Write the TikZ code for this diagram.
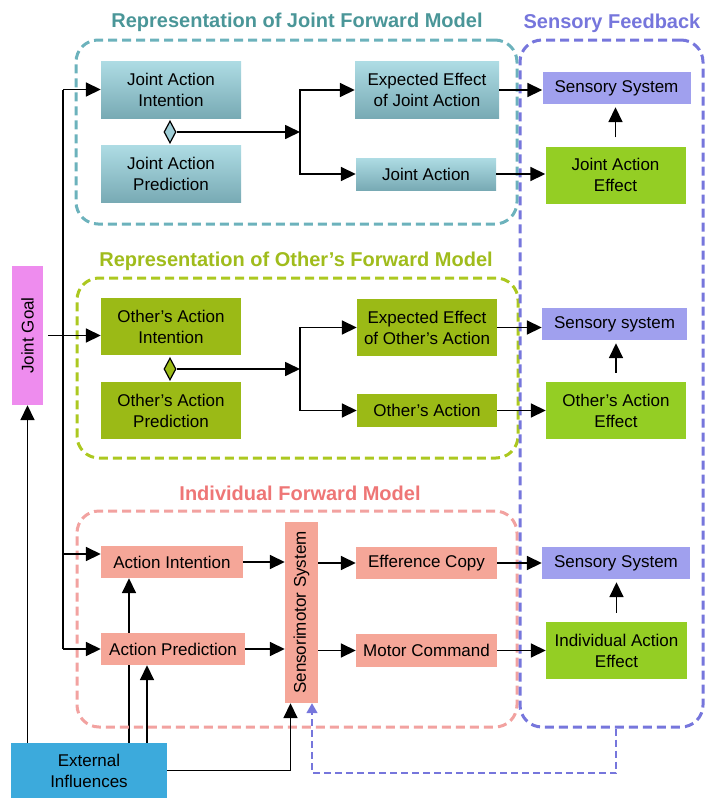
\documentclass[tikz,border=0pt]{standalone}
\usepackage{fontspec}
\setmainfont{Liberation Sans}
\usetikzlibrary{positioning,arrows.meta,shapes.geometric,backgrounds}

\definecolor{jtop}{RGB}{174,220,228}
\definecolor{jbot}{RGB}{120,170,180}
\definecolor{olivegr}{RGB}{155,186,22}
\definecolor{limegr}{RGB}{148,206,36}
\definecolor{lavend}{RGB}{160,160,238}
\definecolor{salmn}{RGB}{245,166,152}
\definecolor{goalpk}{RGB}{238,140,238}
\definecolor{skyblu}{RGB}{60,170,220}
\definecolor{jline}{RGB}{108,178,188}
\definecolor{jtext}{RGB}{74,150,152}
\definecolor{oline}{RGB}{172,200,32}
\definecolor{otext}{RGB}{160,188,28}
\definecolor{iline}{RGB}{242,162,160}
\definecolor{itext}{RGB}{238,118,118}
\definecolor{sline}{RGB}{118,118,220}

\begin{document}
\begin{tikzpicture}[x=1pt, y=-1pt,
    box/.style={rectangle, inner sep=2pt, align=center, font=\fontsize{17}{21}\selectfont},
    jbox/.style={box, top color=jtop, bottom color=jbot, minimum width=140pt, minimum height=57pt},
    obox/.style={box, fill=olivegr, minimum width=140pt, minimum height=57pt},
    gbox/.style={box, fill=limegr, minimum width=140pt, minimum height=57pt},
    sbox/.style={box, fill=lavend, minimum width=148pt, minimum height=32pt},
    ibox/.style={box, fill=salmn, minimum width=142pt, minimum height=32pt},
    grp/.style={rectangle, rounded corners=22pt, dashed, dash pattern=on 9pt off 5pt, line width=3pt},
    ttl/.style={inner sep=0pt, font=\bfseries\fontsize{20}{24}\selectfont},
    diam/.style={diamond, draw, line width=1.2pt, inner sep=0pt, minimum width=12pt, minimum height=22pt},
    line/.style={line width=1.7pt},
    arr/.style={line, -{Triangle[length=15pt, width=14pt]}},
    fb/.style={line width=1.6pt, draw=sline, dash pattern=on 7pt off 4pt, -{Triangle[length=10pt, width=11pt, fill=sline]}}]

\useasboundingbox (0,0) rectangle (706,798);

\node[grp, draw=jline, minimum width=441pt, minimum height=184pt] (jfm) at (296.5,132) {};
\node[grp, draw=oline, minimum width=441pt, minimum height=180pt] (ofm) at (297.5,368) {};
\node[grp, draw=iline, minimum width=440pt, minimum height=216pt] (ifm) at (297,619) {};
\node[grp, draw=sline, minimum width=183pt, minimum height=687pt] (sfb) at (611.5,383.5) {};

\node[ttl, text=jtext] (jfmt) at (297,22) {Representation of Joint Forward Model};
\node[ttl, text=otext] (ofmt) at (296,261) {Representation of Other’s Forward Model};
\node[ttl, text=itext] (ifmt) at (300,493) {Individual Forward Model};
\node[ttl, text=sline] (sfbt) at (612,23) {Sensory Feedback};

\node[jbox] (jai) at (171,89.5) {Joint Action\\Intention};
\node[jbox, below=27pt of jai] (jap) {Joint Action\\Prediction};
\node[jbox, minimum width=144pt] (eeja) at (427,90) {Expected Effect\\of Joint Action};
\node[jbox, minimum height=32pt] (ja) at (426,174) {Joint Action};
\node[sbox] (ss1) at (616.5,88) {Sensory System};
\node[gbox] (jae) at (615.5,175) {Joint Action\\Effect};
\node[diam, fill=jtop!70!jbot] (jdia) at (170,132) {};
\coordinate (jsplit) at (300,132);

\node[obox] (oai) at (171,326.5) {Other’s Action\\Intention};
\node[obox, below=27pt of oai] (oap) {Other’s Action\\Prediction};
\node[obox] (eeoa) at (427,327.5) {Expected Effect\\of Other’s Action};
\node[obox, minimum height=33pt] (oa) at (427,410.5) {Other’s Action};
\node[sbox, minimum width=145pt] (ss2) at (614.5,324) {Sensory system};
\node[gbox] (oae) at (616,410.5) {Other’s Action\\Effect};
\node[diam, fill=olivegr] (odia) at (170,369) {};
\coordinate (osplit) at (300,369);

\node[ibox] (ai) at (172,562) {Action Intention};
\node[ibox, minimum width=144pt] (ap) at (173,649) {Action Prediction};
\node[ibox, rotate=90, minimum width=181pt, minimum height=33pt] (sms) at (301.5,612.5) {Sensorimotor System};
\node[ibox, minimum width=141pt] (ec) at (426.5,563) {Efference Copy};
\node[ibox, minimum width=141pt, minimum height=33pt] (mc) at (426.5,650.5) {Motor Command};
\node[sbox] (ss3) at (616,563) {Sensory System};
\node[gbox, minimum width=141pt] (iae) at (616.5,650.5) {Individual Action\\Effect};

\node[box, fill=goalpk, rotate=90, minimum width=139pt, minimum height=31pt] (jg) at (27.5,335.5) {Joint Goal};
\node[box, fill=skyblu, minimum width=156pt, minimum height=55pt] (ei) at (89,770.5) {External\\Influences};

\coordinate (ttop) at (63,89.5);
\coordinate (tmid) at (63,554);
\coordinate (tbot) at (63,649);
\coordinate (xa) at (129,0);
\coordinate (xb) at (147,0);
\coordinate (fbc) at (616,773);

\draw[arr] (jdia.east) -- (jsplit);
\draw[arr] (jsplit) |- (eeja.west);
\draw[arr] (jsplit) |- (ja.west);
\draw[arr] (eeja.east) -- (eeja.east -| ss1.west);
\draw[arr] (ja.east) -- (ja.east -| jae.west);
\draw[arr, shorten <=9pt, shorten >=3pt] (jae.north) -- (jae.north |- ss1.south);

\draw[arr] (odia.east) -- (osplit);
\draw[arr] (osplit) |- (eeoa.west);
\draw[arr] (osplit) |- (oa.west);
\draw[arr] (eeoa.east) -- (eeoa.east -| ss2.west);
\draw[arr] (oa.east) -- (oa.east -| oae.west);
\draw[arr, shorten <=9pt, shorten >=3pt] (oae.north) -- (oae.north |- ss2.south);

\draw[arr] (ai.east) -- (ai.east -| sms.north);
\draw[arr] (ap.east) -- (ap.east -| sms.north);
\draw[arr] (sms.south |- ec.west) -- (ec.west);
\draw[arr] (sms.south |- mc.west) -- (mc.west);
\draw[arr] (ec.east) -- (ec.east -| ss3.west);
\draw[arr] (mc.east) -- (mc.east -| iae.west);
\draw[arr, shorten <=9pt, shorten >=3pt] (iae.north) -- (iae.north |- ss3.south);

\draw[line] (ttop) -- (tbot);
\draw[arr] (ttop) -- (jai.west);
\draw[arr] (tmid) -- (tmid -| ai.west);
\draw[arr] (tbot) -- (ap.west);
\draw[arr, shorten <=5pt] (jg.south) -- (jg.south -| oai.west);

\draw[arr] (ei.north -| jg.west) -- (jg.west);
\begin{pgfonlayer}{background}
\draw[arr] (ei.north -| xa) -- (ai.south -| xa);
\end{pgfonlayer}
\draw[arr] (ei.north -| xb) -- (ap.south -| xb);
\draw[arr] (ei.east) -| ([xshift=-11pt]sms.west);
\draw[fb] (sfb.south -| fbc) -- (fbc) -| ([xshift=10.5pt]sms.west);
\end{tikzpicture}
\end{document}
